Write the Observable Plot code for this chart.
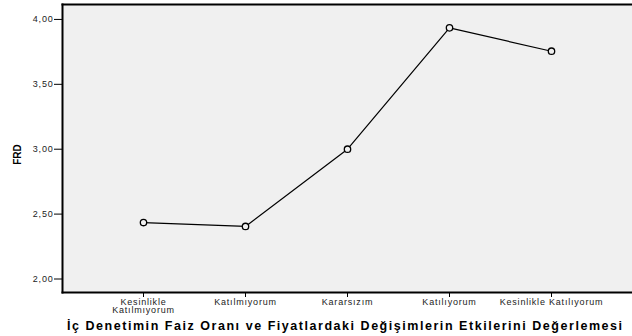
<!DOCTYPE html>
<html><head><meta charset="utf-8">
<script src="https://cdn.jsdelivr.net/npm/d3@7"></script>
<script src="https://cdn.jsdelivr.net/npm/@observablehq/plot@0.6"></script>
<style>
html,body{margin:0;padding:0;background:#fff;}
svg{font-family:"Liberation Sans",Arial,sans-serif;}
g[aria-label="y-axis tick label"] text, g[aria-label="x-axis tick label"] text{letter-spacing:0.8px;}
</style>
</head><body>
<div id="chart"></div>
<script>
const categories = ["Kesinlikle\nKatılmıyorum", "Katılmıyorum", "Kararsızım", "Katılıyorum", "Kesinlikle Katılıyorum"];
const values = [2.435, 2.405, 3.00, 3.935, 3.755];
const yTicks = [2.0, 2.5, 3.0, 3.5, 4.0];
const xTitle = "İç Denetimin Faiz Oranı ve Fiyatlardaki Değişimlerin Etkilerini Değerlemesi";
const yTitle = "FRD";

const data = categories.map((c, i) => ({cat: c, v: values[i]}));

const chart = Plot.plot({
  width: 632, height: 336,
  marginLeft: 62, marginRight: 0, marginTop: 4, marginBottom: 44,
  style: {background: "#fff", fontFamily: "Liberation Sans, Arial, sans-serif"},
  x: {type: "point", domain: categories, padding: 0.767},
  y: {domain: [1.896, 4.115]},
  marks: [
    Plot.frame({fill: "#f0f0f0", stroke: null}),
    Plot.axisY({ticks: yTicks, tickSize: 8, tickPadding: 1, tickFormat: d => d.toFixed(2).replace(".", ","), fontSize: 9, color: "#222", stroke: "#000", label: null}),
    Plot.axisX({tickSize: 5, tickPadding: 1, fontSize: 9, color: "#222", stroke: "#000", label: null, lineHeight: 0.95}),
    Plot.line(data, {x: "cat", y: "v", stroke: "#000", strokeWidth: 1.2}),
    Plot.dot(data, {x: "cat", y: "v", r: 3.2, stroke: "#000", strokeWidth: 1.3, fill: "#f0f0f0"}),
    Plot.frame({anchor: "top", stroke: "#000", strokeWidth: 2}),
    Plot.frame({anchor: "left", stroke: "#000", strokeWidth: 2}),
    Plot.frame({anchor: "bottom", stroke: "#000", strokeWidth: 2}),
    Plot.text([xTitle], {frameAnchor: "bottom", lineAnchor: "middle", textAnchor: "middle", dy: 33, dx: -3, fontWeight: "bold", fontSize: 12.5, fill: "#000"}),
    Plot.text([yTitle], {frameAnchor: "left", lineAnchor: "middle", textAnchor: "middle", dx: -45, dy: 6, rotate: -90, fontWeight: "bold", fontSize: 10, fill: "#000"})
  ]
});
document.getElementById("chart").appendChild(chart);
d3.select(chart).selectAll("text")
  .filter(function() { return this.textContent === xTitle; })
  .attr("textLength", 555).attr("lengthAdjust", "spacing");
</script>
</body></html>
